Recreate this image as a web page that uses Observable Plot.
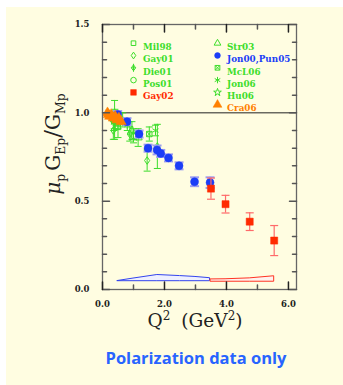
<!DOCTYPE html>
<html>
<head>
<meta charset="utf-8">
<script src="https://cdn.jsdelivr.net/npm/d3@7"></script>
<script src="https://cdn.jsdelivr.net/npm/@observablehq/plot@0.6"></script>
<style>
  html, body { margin: 0; padding: 0; background: #ffffff; width: 343px; height: 385px; overflow: hidden; }
  #bg { position: absolute; left: 6px; top: 7px; right: 0; bottom: 0; background: #fffde1; }
  #chart { position: absolute; left: 6px; top: 7px; }
  #cap { position: absolute; left: 76px; width: 240px; top: 350px; text-align: center;
         font-family: "Open Sans", sans-serif; font-weight: bold; font-size: 16.5px; line-height: 16px;
         color: #2864ff; }
</style>
</head>
<body>
<div id="bg"></div>
<div id="chart"></div>
<div id="cap">Polarization data only</div>
<script>
// ---------------- data ----------------
const seriesNames = ["Mil98", "Gay01", "Die01", "Pos01", "Gay02", "Str03", "Jon00,Pun05", "McL06", "Jon06", "Hu06", "Cra06"];

const mil98Q2 = [0.38, 0.50];
const mil98Ratio = [0.96, 0.92];
const mil98Err = [0.05, 0.06];

const gay01Q2 = [0.35, 0.88, 1.44, 1.77];
const gay01Ratio = [0.90, 0.88, 0.73, 0.81];
const gay01Err = [0.05, 0.04, 0.06, 0.125];

const die01Q2 = [0.40];
const die01Ratio = [0.98];
const die01Err = [0.04];

const pos01Q2 = [0.37, 0.44, 0.65];
const pos01Ratio = [0.95, 0.97, 0.96];
const pos01Err = [0.05, 0.04, 0.04];

const gay02Q2 = [3.50, 3.97, 4.75, 5.54];
const gay02Ratio = [0.571, 0.483, 0.384, 0.277];
const gay02Err = [0.06, 0.05, 0.05, 0.085];

const str03Q2 = [0.95, 1.15];
const str03Ratio = [0.90, 0.86];
const str03Err = [0.05, 0.05];

const jonPunQ2 = [0.49, 0.79, 1.18, 1.47, 1.76, 1.88, 2.13, 2.47, 2.97, 3.47];
const jonPunRatio = [0.99, 0.95, 0.88, 0.80, 0.79, 0.77, 0.745, 0.70, 0.61, 0.605];
const jonPunErr = [0.02, 0.02, 0.02, 0.02, 0.025, 0.02, 0.02, 0.02, 0.025, 0.03];

const mcl06Q2 = [0.50, 1.51];
const mcl06Ratio = [0.94, 0.88];
const mcl06Err = [0.03, 0.04];

const jon06Q2 = [0.80, 1.71];
const jon06Ratio = [0.93, 0.90];
const jon06Err = [0.03, 0.03];

const hu06Q2 = [0.39, 1.00];
const hu06Ratio = [0.96, 0.87];
const hu06Err = [0.11, 0.04];

const cra06Q2 = [0.16, 0.19, 0.23, 0.28, 0.35, 0.41, 0.47, 0.53, 0.60];
const cra06Ratio = [1.00, 0.99, 0.98, 0.99, 0.97, 0.98, 0.96, 0.97, 0.95];
const cra06Err = [0.015, 0.015, 0.015, 0.015, 0.015, 0.015, 0.015, 0.015, 0.015];

// systematic error bands
const bandBlueQ2 = [0.49, 1.00, 1.77, 2.50, 3.00, 3.47];
const bandBlueTop = [0.048, 0.062, 0.082, 0.076, 0.071, 0.064];
const bandBlueBase = 0.047;
const bandRedQ2 = [3.50, 3.97, 4.75, 5.54];
const bandRedTop = [0.057, 0.058, 0.063, 0.075];
const bandRedBase = 0.044;

// axis ticks
const xTickValues = [0, 2, 4, 6];
const xMinorTicks = [1, 3, 5];
const yTickValues = [0, 0.5, 1.0, 1.5];
const yMinorTicks = [0.1, 0.2, 0.3, 0.4, 0.6, 0.7, 0.8, 0.9, 1.1, 1.2, 1.3, 1.4];

const seriesData = {
  "Mil98": [mil98Q2, mil98Ratio, mil98Err],
  "Gay01": [gay01Q2, gay01Ratio, gay01Err],
  "Die01": [die01Q2, die01Ratio, die01Err],
  "Pos01": [pos01Q2, pos01Ratio, pos01Err],
  "Gay02": [gay02Q2, gay02Ratio, gay02Err],
  "Str03": [str03Q2, str03Ratio, str03Err],
  "Jon00,Pun05": [jonPunQ2, jonPunRatio, jonPunErr],
  "McL06": [mcl06Q2, mcl06Ratio, mcl06Err],
  "Jon06": [jon06Q2, jon06Ratio, jon06Err],
  "Hu06": [hu06Q2, hu06Ratio, hu06Err],
  "Cra06": [cra06Q2, cra06Ratio, cra06Err]
};

// ---------------- styles ----------------
const GREEN = "#3ddd2b", BLUE = "#1b3df7", RED = "#ff2a00", ORANGE = "#ff8000";
const rad = (size) => Math.sqrt(size / Math.PI);
const capSym = { draw(c, s) { const r = rad(s); c.moveTo(-r, 0); c.lineTo(r, 0); } };
const tickShape = { draw(c, l) { c.moveTo(0, 0); c.lineTo(0, -l); } };
const openDiamond = { draw(c, s) { const r = rad(s); const w = r * 0.85, h = r * 1.25;
  c.moveTo(0, -h); c.lineTo(w, 0); c.lineTo(0, h); c.lineTo(-w, 0); c.closePath(); } };
const diamondBar = { draw(c, s) { const r = rad(s); const w = r * 0.8, h = r * 1.1;
  c.moveTo(0, -h); c.lineTo(w, 0); c.lineTo(0, h); c.lineTo(-w, 0); c.closePath();
  c.moveTo(0, -h * 1.35); c.lineTo(0, h * 1.35); c.moveTo(-w, 0); c.lineTo(w, 0); } };
const boxX = { draw(c, s) { const r = rad(s) * 0.9;
  c.rect(-r, -r, 2 * r, 2 * r); c.moveTo(-r, -r); c.lineTo(r, r); c.moveTo(r, -r); c.lineTo(-r, r); } };

const styles = {
  "Mil98": { color: GREEN, symbol: "square", filled: false, r: 3, lr: 2.6 },
  "Gay01": { color: GREEN, symbol: openDiamond, filled: false, r: 3, lr: 2.7 },
  "Die01": { color: GREEN, symbol: diamondBar, filled: false, r: 3, lr: 2.7 },
  "Pos01": { color: GREEN, symbol: "circle", filled: false, r: 2.8, lr: 2.8 },
  "Gay02": { color: RED, symbol: "square", filled: true, r: 4, lr: 3.2, err: "#ff6a6a", errW: 1.2, cap: 4 },
  "Str03": { color: GREEN, symbol: "triangle", filled: false, r: 3, lr: 2.5 },
  "Jon00,Pun05": { color: BLUE, symbol: "circle", filled: true, r: 4, lr: 2.9, err: "#9c9cf0", errW: 2.5, cap: 4.5 },
  "McL06": { color: GREEN, symbol: boxX, filled: false, r: 3, lr: 2.6 },
  "Jon06": { color: GREEN, symbol: "asterisk", filled: false, r: 3.3, lr: 3 },
  "Hu06": { color: GREEN, symbol: "star", filled: false, r: 3.3, lr: 2.4 },
  "Cra06": { color: ORANGE, symbol: "triangle", filled: true, r: 3.8, lr: 3.3, err: ORANGE, errW: 1, cap: 2 }
};
const drawOrder = ["Mil98", "Gay01", "Die01", "Pos01", "Str03", "McL06", "Jon06", "Hu06", "Jon00,Pun05", "Gay02", "Cra06"];

// ---------------- marks ----------------
const marks = [];

marks.push(Plot.areaY(bandBlueQ2.map((q, i) => ({ q, lo: bandBlueBase, hi: bandBlueTop[i] })),
  { x: "q", y1: "lo", y2: "hi", fill: "#eef0ff", stroke: "#3344ee", strokeWidth: 1 }));
marks.push(Plot.areaY(bandRedQ2.map((q, i) => ({ q, lo: bandRedBase, hi: bandRedTop[i] })),
  { x: "q", y1: "lo", y2: "hi", fill: "#fff2ee", stroke: "#ff3322", strokeWidth: 1 }));

marks.push(Plot.ruleY([1], { stroke: "#222", strokeWidth: 1 }));

for (const name of drawOrder) {
  const [q2, ratio, err] = seriesData[name];
  const st = styles[name];
  const rows = q2.map((q, i) => ({ q, r: ratio[i], lo: ratio[i] - err[i], hi: ratio[i] + err[i] }));
  const es = st.err || st.color, ew = st.errW || 1, cr = st.cap || 3.5;
  marks.push(Plot.ruleX(rows, { x: "q", y1: "lo", y2: "hi", stroke: es, strokeWidth: ew }));
  marks.push(Plot.dot(rows, { x: "q", y: "lo", symbol: capSym, r: cr, stroke: es, strokeWidth: ew > 2 ? 2 : ew }));
  marks.push(Plot.dot(rows, { x: "q", y: "hi", symbol: capSym, r: cr, stroke: es, strokeWidth: ew > 2 ? 2 : ew }));
  marks.push(Plot.dot(rows, { x: "q", y: "r", symbol: st.symbol, r: st.r,
    fill: st.filled ? st.color : "none", stroke: st.color, strokeWidth: st.filled ? 0.5 : 1 }));
}

// legend (two columns inside the frame)
seriesNames.forEach((name, i) => {
  const col = i < 5 ? 0 : 1, row = i < 5 ? i : i - 5;
  const st = styles[name];
  const dx = 31 + col * 84, dy = 18.7 + row * 12.3;
  marks.push(Plot.dot([name], { frameAnchor: "top-left", dx, dy, symbol: st.symbol, r: st.lr,
    fill: st.filled ? st.color : "none", stroke: st.color, strokeWidth: st.filled ? 0.5 : 1 }));
  marks.push(Plot.text([name], { frameAnchor: "top-left", dx: dx + 9.5, dy: dy + 0.5, text: d => d,
    textAnchor: "start", fill: st.color, fontFamily: "DejaVu Serif", fontWeight: "bold", fontSize: 8.8 }));
});

marks.push(Plot.frame({ stroke: "#666", strokeWidth: 1.3 }));

// inward ticks on all four sides
const tickCol = "#555";
for (const [vals, len] of [[yTickValues, 7], [yMinorTicks, 4]]) {
  marks.push(Plot.vector(vals, { y: d => d, frameAnchor: "left", length: len, rotate: 90, anchor: "start", shape: tickShape, stroke: tickCol }));
  marks.push(Plot.vector(vals, { y: d => d, frameAnchor: "right", length: len, rotate: -90, anchor: "start", shape: tickShape, stroke: tickCol }));
}
for (const [vals, len] of [[xTickValues, 7.5], [xMinorTicks, 4.5]]) {
  marks.push(Plot.vector(vals, { x: d => d, frameAnchor: "bottom", length: len, rotate: 0, anchor: "start", shape: tickShape, stroke: len > 5 ? "#222" : tickCol }));
  marks.push(Plot.vector(vals, { x: d => d, frameAnchor: "top", length: len, rotate: 180, anchor: "start", shape: tickShape, stroke: len > 5 ? "#222" : tickCol }));
}

marks.push(Plot.axisY({ ticks: yTickValues, tickSize: 0, tickPadding: 13, tickFormat: d3.format(".1f"),
  label: null, fontSize: 8.5, fontWeight: "bold", fontFamily: "DejaVu Serif", color: "#222" }));
marks.push(Plot.axisX({ ticks: xTickValues, tickSize: 0, tickPadding: 11.5, tickFormat: d3.format(".1f"),
  label: null, fontSize: 8.5, fontWeight: "bold", fontFamily: "DejaVu Serif", color: "#222" }));

const plot = Plot.plot({
  width: 337,
  height: 337,
  marginLeft: 96,
  marginRight: 47,
  marginTop: 17,
  marginBottom: 55,
  x: { domain: [0, 6.26] },
  y: { domain: [0, 1.5] },
  style: { background: "transparent", fontFamily: "DejaVu Serif", overflow: "visible" },
  marks
});

const svg = d3.select(plot);
// y-axis title: μ_p G_Ep / G_Mp
const yl = svg.append("text")
  .attr("transform", "translate(54,137) rotate(-90)")
  .attr("text-anchor", "middle")
  .attr("font-family", "DejaVu Serif")
  .attr("font-size", 20)
  .attr("fill", "#222");
yl.append("tspan").attr("font-style", "italic").text("μ");
yl.append("tspan").attr("font-size", 12.5).attr("dy", 5).text("p");
yl.append("tspan").attr("dy", -5).attr("dx", 3).text("G");
yl.append("tspan").attr("font-size", 12.5).attr("dy", 5).text("Ep");
yl.append("tspan").attr("dy", -5).attr("font-size", 23).text("/");
yl.append("tspan").text("G");
yl.append("tspan").attr("font-size", 12.5).attr("dy", 5).text("Mp");

// x-axis title: Q² (GeV²)
const xl = svg.append("text")
  .attr("x", 189).attr("y", 320)
  .attr("text-anchor", "middle")
  .attr("font-family", "DejaVu Serif")
  .attr("font-size", 18.5)
  .attr("fill", "#222");
xl.append("tspan").text("Q");
xl.append("tspan").attr("font-size", 12).attr("dy", -7).text("2");
xl.append("tspan").attr("dy", 7).attr("dx", 11).text("(GeV");
xl.append("tspan").attr("font-size", 12).attr("dy", -7).text("2");
xl.append("tspan").attr("dy", 7).text(")");

document.getElementById("chart").appendChild(plot);
</script>
</body>
</html>
